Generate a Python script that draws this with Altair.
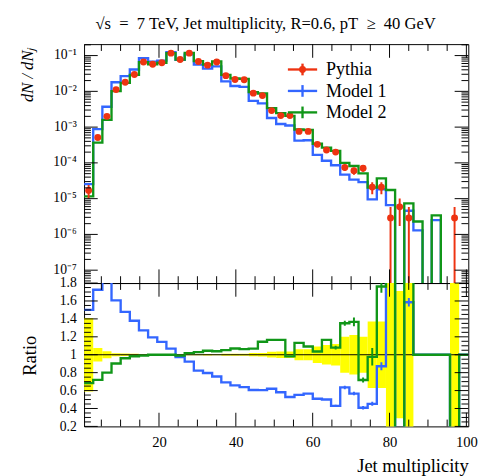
import altair as alt
import numpy as np
import pandas as pd

# ---------------- data ----------------
x_range = [0.5, 100.5]
n_bins = 42

pythia = [1.70e-5, 5.1e-4, 2.0e-3, 1.12e-2, 1.80e-2, 2.95e-2, 6.6e-2, 5.7e-2, 6.3e-2, 0.117,
          7.8e-2, 0.117, 6.8e-2, 5.4e-2, 6.6e-2, 2.75e-2, 2.14e-2, 2.10e-2, 8.9e-3, 7.6e-3,
          2.9e-3, 2.1e-3, 2.1e-3, 7.6e-4, 7.6e-4, 3.3e-4, 2.3e-4, 2.0e-4, 7.4e-5, 6.0e-5,
          7.1e-5, 2.1e-5, 2.1e-5, 2.9e-6, 5.9e-6, 2.9e-6, 0, 0, 0, 0, 2.9e-6, 0]
pythia_relerr = [0.41, 0.075, 0.038, 0.016, 0.013, 0.010, 0.0066, 0.007, 0.0068, 0.005,
                 0.006, 0.005, 0.0065, 0.0073, 0.0066, 0.010, 0.012, 0.012, 0.018, 0.020,
                 0.032, 0.037, 0.037, 0.062, 0.062, 0.093, 0.11, 0.12, 0.20, 0.22,
                 0.20, 0.37, 0.37, 1.0, 0.71, 1.0, 0, 0, 0, 0, 1.0, 0]
model1 = [2.55e-5, 8.8e-4, 3.7e-3, 1.80e-2, 2.66e-2, 4.07e-2, 8.4e-2, 6.8e-2, 7.2e-2, 0.125,
          7.6e-2, 0.108, 5.6e-2, 4.3e-2, 5.0e-2, 1.9e-2, 1.41e-2, 1.34e-2, 5.4e-3, 4.6e-3,
          1.8e-3, 1.22e-3, 1.11e-3, 4.2e-4, 4.3e-4, 1.68e-4, 1.15e-4, 8.6e-5, 4.7e-5, 3.4e-5,
          2.9e-5, 9.5e-6, 1.83e-5, 6.6e-6, 0, 4.6e-6, 1.3e-6, 0, 2.5e-6, 0, 0, 0]
model1_relerr = [0] * 27 + [0.03, 0.03, 0.035, 0.05, 0.05, 0.05, 0.08, 0, 0.03, 0.1, 0, 0.08, 0, 0, 0]
model2 = [1.16e-5, 3.67e-4, 1.6e-3, 1.01e-2, 1.73e-2, 2.9e-2, 6.53e-2, 5.7e-2, 6.3e-2, 0.117,
          7.72e-2, 0.119, 7.0e-2, 5.64e-2, 6.86e-2, 2.89e-2, 2.29e-2, 2.23e-2, 9.5e-3, 8.7e-3,
          3.38e-3, 2.45e-3, 2.06e-3, 8.6e-4, 8.3e-4, 3.42e-4, 2.68e-4, 2.16e-4, 1.0e-4, 8.2e-5,
          5.1e-5, 2.05e-5, 3.7e-5, 1.74e-5, 0, 7.4e-6, 2.3e-6, 0, 3.4e-6, 0, 0, 0]
model2_relerr = [0] * 27 + [0.02, 0.02, 0.035, 0.04, 0.1, 0.04, 0.04, 0, 0.06, 0.1, 0, 0.08, 0, 0, 0]

series_names = ["Pythia", "Model 1", "Model 2"]
series_colors = ["#EE3311", "#3366FF", "#109618"]
band_color = "#FFFF00"

x_label_values = [20, 40, 60, 80, 100]
x_minor_values = [5, 10, 15, 25, 30, 35, 45, 50, 55, 65, 70, 75, 85, 90, 95]
y_top_values = [1e-7, 1e-6, 1e-5, 1e-4, 1e-3, 1e-2, 1e-1]
y_top_domain = [10 ** -7.36, 10 ** -0.68]
y_ratio_values = [0.2, 0.4, 0.6, 0.8, 1.0, 1.2, 1.4, 1.6, 1.8]
y_ratio_domain = [0.2, 1.8]

title_text = "√s\u2002=\u20027 TeV, Jet multiplicity, R=0.6, pT\u2002≥\u200240 GeV"
y_top_title = "dN / dNⱼ"
y_ratio_title = "Ratio"
x_title = "Jet multiplicity"

# ---------------- derived tables ----------------
FONT = "Liberation Serif"
W, H1, H2 = 394, 245, 147
MAJ, MINL = 14, 7
LW = 2.4
FLOOR = 1e-12

y_top_minor = [k * 10.0 ** n for n in range(-8, 0) for k in range(2, 10)
               if y_top_domain[0] <= k * 10.0 ** n <= y_top_domain[1]]
y_ratio_minor = [round(0.2 + 0.05 * k, 2) for k in range(33) if k % 4]

edges = np.linspace(x_range[0], x_range[1], n_bins + 1)
lo, hi = edges[:-1], edges[1:]
ctr = 0.5 * (lo + hi)
p = np.array(pythia, dtype=float)
m1 = np.array(model1, dtype=float)
m2 = np.array(model2, dtype=float)


def step_df(vals):
    xs_, ys_, os_ = [], [], []
    for i, v in enumerate(vals):
        xs_ += [lo[i], hi[i]]
        ys_ += [v, v]
        os_ += [2 * i, 2 * i + 1]
    return pd.DataFrame({"x": xs_, "y": ys_, "o": os_})


safe_p = np.where(p > 0, p, 1.0)
r1 = np.where(p > 0, m1 / safe_p, 1.0)
r2 = np.where(p > 0, m2 / safe_p, 1.0)

xs = alt.Scale(domain=x_range, nice=False, zero=False)
ys_top = alt.Scale(type="log", domain=y_top_domain, nice=False)
ys_rat = alt.Scale(domain=y_ratio_domain, nice=False, zero=False)

one = pd.DataFrame({"a": [0]})

sup = "['⁰','¹','²','³','⁴','⁵','⁶','⁷','⁸','⁹']"
top_yaxis = alt.Axis(values=y_top_values,
                     labelExpr="'10⁻' + " + sup + "[round(-log(datum.value)/LN10)]",
                     ticks=False, domain=False, grid=False, labelPadding=8, labelOffset=-1,
                     labelFont=FONT, labelFontSize=14, labelColor="black", labelOverlap=False,
                     title=y_top_title, titleFont=FONT, titleFontSize=17, titleFontStyle="italic",
                     titleFontWeight="normal", titleColor="black", titleAngle=270,
                     titleX=-58, titleY=3, titleAlign="right", titleBaseline="middle")
rat_yaxis = alt.Axis(values=y_ratio_values, format="~g",
                     ticks=False, domain=False, grid=False, labelPadding=8,
                     labelFont=FONT, labelFontSize=14, labelColor="black", labelOverlap=False,
                     title=y_ratio_title, titleFont=FONT, titleFontSize=19,
                     titleFontWeight="normal", titleColor="black", titleAngle=270,
                     titleX=-56, titleY=74, titleAlign="center", titleBaseline="middle")
rat_xaxis = alt.Axis(values=x_label_values, format="d", ticks=False, domain=False, grid=False,
                     labelPadding=9, labelFlush=False, labelBound=False, labelFont=FONT, labelFontSize=15,
                     labelColor="black", labelOverlap=False,
                     title=x_title, titleFont=FONT, titleFontSize=19, titleFontWeight="normal",
                     titleColor="black", titleAnchor="end", titlePadding=7)


def x_tick_layers(height, xaxis):
    out = []
    for vals, ln in ((x_label_values, MAJ), (x_minor_values, MINL)):
        d = pd.DataFrame({"t": vals})
        b = alt.Chart(d).mark_rule(color="black", strokeWidth=1)
        out.append(b.encode(x=alt.X("t:Q", scale=xs, axis=xaxis), y=alt.value(0), y2=alt.value(ln)))
        out.append(b.encode(x=alt.X("t:Q", scale=xs, axis=xaxis), y=alt.value(height), y2=alt.value(height - ln)))
    return out


def y_tick_layers(majors, minors, yscale, yaxis):
    out = []
    for vals, ln in ((majors, MAJ), (minors, MINL)):
        d = pd.DataFrame({"t": vals})
        b = alt.Chart(d).mark_rule(color="black", strokeWidth=1)
        out.append(b.encode(y=alt.Y("t:Q", scale=yscale, axis=yaxis), x=alt.value(0), x2=alt.value(ln)))
        out.append(b.encode(y=alt.Y("t:Q", scale=yscale, axis=yaxis), x=alt.value(W), x2=alt.value(W - ln)))
    return out


# ---------------- top panel ----------------
top_layers = []
for vals, color in ((m1, series_colors[1]), (m2, series_colors[2])):
    d = step_df(np.maximum(vals, FLOOR))
    top_layers.append(alt.Chart(d).mark_line(clip=True, strokeWidth=LW, color=color).encode(
        x=alt.X("x:Q", scale=xs, axis=None),
        y=alt.Y("y:Q", scale=ys_top, axis=top_yaxis),
        order="o:Q"))

mask = p > 0
err_df = pd.DataFrame({
    "x": ctr[mask],
    "lo": np.maximum(p[mask] * (1 - np.array(pythia_relerr)[mask]), FLOOR),
    "hi": p[mask] * (1 + np.array(pythia_relerr)[mask]),
    "v": p[mask]})
top_layers.append(alt.Chart(err_df).mark_rule(clip=True, color=series_colors[0], strokeWidth=2).encode(
    x=alt.X("x:Q", scale=xs, axis=None),
    y=alt.Y("lo:Q", scale=ys_top, axis=top_yaxis), y2="hi:Q"))
top_layers.append(alt.Chart(err_df).mark_circle(clip=True, color=series_colors[0], size=50, opacity=1).encode(
    x=alt.X("x:Q", scale=xs, axis=None),
    y=alt.Y("v:Q", scale=ys_top, axis=top_yaxis)))
top_layers += x_tick_layers(H1, None)
top_layers += y_tick_layers(y_top_values, y_top_minor, ys_top, top_yaxis)

# legend
legend_rows = [26, 48, 70]
for name, color, yy in zip(series_names, series_colors, legend_rows):
    b = alt.Chart(one)
    top_layers.append(b.mark_rule(color=color, strokeWidth=LW).encode(
        x=alt.value(209), x2=alt.value(239), y=alt.value(yy)))
    top_layers.append(b.mark_rule(color=color, strokeWidth=LW).encode(
        x=alt.value(224), y=alt.value(yy - 6), y2=alt.value(yy + 6)))
    if name == "Pythia":
        top_layers.append(b.mark_circle(color=color, size=50, opacity=1).encode(
            x=alt.value(224), y=alt.value(yy)))
    top_layers.append(b.mark_text(font=FONT, fontSize=18.5, align="left", baseline="middle", color="black").encode(
        x=alt.value(248), y=alt.value(yy), text=alt.value(name)))

top = alt.layer(*top_layers).properties(width=W, height=H1)

# ---------------- ratio panel ----------------
pr = np.array(pythia_relerr)
band_df = pd.DataFrame({"lo": lo[mask], "hi": hi[mask],
                        "b0": 1 - pr[mask], "b1": 1 + pr[mask]})
bot_layers = [alt.Chart(band_df).mark_rect(clip=True, color=band_color, opacity=1).encode(
    x=alt.X("lo:Q", scale=xs, axis=rat_xaxis), x2="hi:Q",
    y=alt.Y("b0:Q", scale=ys_rat, axis=rat_yaxis), y2="b1:Q")]
bot_layers.append(alt.Chart(one).mark_rule(color="black", strokeWidth=1).encode(
    y=alt.Y(datum=1.0, scale=ys_rat, axis=rat_yaxis)))
for r, rel, color in ((r1, model1_relerr, series_colors[1]), (r2, model2_relerr, series_colors[2])):
    d = step_df(r)
    bot_layers.append(alt.Chart(d).mark_line(clip=True, strokeWidth=LW, color=color).encode(
        x=alt.X("x:Q", scale=xs, axis=rat_xaxis),
        y=alt.Y("y:Q", scale=ys_rat, axis=rat_yaxis),
        order="o:Q"))
    rel = np.array(rel)
    em = (rel > 0) & (p > 0)
    ed = pd.DataFrame({"x": ctr[em], "lo": r[em] * (1 - rel[em]), "hi": r[em] * (1 + rel[em])})
    bot_layers.append(alt.Chart(ed).mark_rule(clip=True, color=color, strokeWidth=2).encode(
        x=alt.X("x:Q", scale=xs, axis=rat_xaxis),
        y=alt.Y("lo:Q", scale=ys_rat, axis=rat_yaxis), y2="hi:Q"))
bot_layers += x_tick_layers(H2, rat_xaxis)
bot_layers += y_tick_layers(y_ratio_values, y_ratio_minor, ys_rat, rat_yaxis)

bot = alt.layer(*bot_layers).properties(width=W, height=H2)

chart = alt.vconcat(top, bot, spacing=0, bounds="flush").resolve_scale(
    x="independent", y="independent"
).properties(
    title=alt.TitleParams(title_text, font=FONT, fontSize=17, fontWeight="normal",
                          color="black", anchor="middle", offset=11, dx=18),
    padding={"left": 10, "top": 1, "right": 2, "bottom": 2},
    background="white",
).configure_view(stroke="black", strokeWidth=1).configure_axisX(labelFlush=False)

chart.save("out.html", embed_options={"renderer": "svg", "actions": False})
